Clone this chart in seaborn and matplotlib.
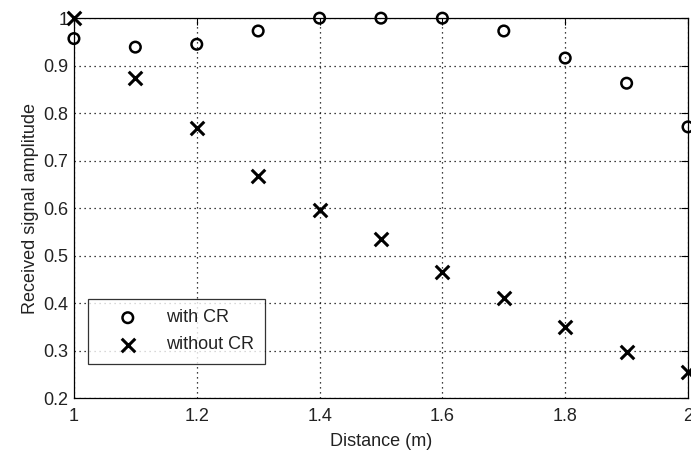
import numpy as np
import pandas as pd
import seaborn as sns
import matplotlib
matplotlib.use('Agg')
import matplotlib.pyplot as plt
from matplotlib.ticker import FuncFormatter

# values
distance = [1.0, 1.1, 1.2, 1.3, 1.4, 1.5, 1.6, 1.7, 1.8, 1.9, 2.0]
with_cr = [0.957, 0.939, 0.945, 0.973, 1.0, 1.0, 1.0, 0.973, 0.916, 0.863, 0.771]
without_cr = [1.0, 0.874, 0.768, 0.667, 0.596, 0.534, 0.466, 0.411, 0.350, 0.296, 0.254]
series_names = ['with CR', 'without CR']

df = pd.DataFrame({'Distance': distance * 2,
                   'Amplitude': with_cr + without_cr,
                   'Series': [series_names[0]] * len(distance) + [series_names[1]] * len(distance)})

sns.set_style('white')
plt.rcParams['font.family'] = ['Liberation Sans', 'DejaVu Sans']
FS = 13

fig = plt.figure(figsize=(6.91, 4.54), dpi=100)
ax = fig.add_axes([0.107, 0.1233, 0.8887, 0.8367])

d1 = df[df['Series'] == series_names[0]]
d2 = df[df['Series'] == series_names[1]]
sns.scatterplot(data=d1, x='Distance', y='Amplitude', ax=ax, marker='o', s=58,
                facecolor='none', edgecolor='k', linewidth=1.8, label=series_names[0],
                clip_on=False, zorder=3)
sns.scatterplot(data=d2, x='Distance', y='Amplitude', ax=ax, marker='x', s=95,
                color='k', linewidth=2.2, label=series_names[1],
                clip_on=False, zorder=3)

ax.set_xlim(1, 2)
ax.set_ylim(0.2, 1)
ax.set_xticks(np.arange(1, 2.01, 0.2))
ax.set_yticks(np.arange(0.2, 1.01, 0.1))
fmt = FuncFormatter(lambda v, p: ('%.1f' % v).rstrip('0').rstrip('.'))
ax.xaxis.set_major_formatter(fmt)
ax.yaxis.set_major_formatter(fmt)
ax.tick_params(direction='in', length=5, width=0.8, top=True, right=True,
               color='k', labelcolor='#222222', labelsize=FS, pad=4)
ax.tick_params(axis='x', pad=7)
ax.grid(True, linestyle=(0, (1, 3)), color='k', linewidth=0.9)
for s in ax.spines.values():
    s.set_visible(True)
    s.set_color('k')
    s.set_linewidth(0.9)

ax.set_xlabel('Distance (m)', fontsize=FS, color='#222222', labelpad=6)
ax.set_ylabel('Received signal amplitude', fontsize=FS, color='#222222', labelpad=3)

leg = ax.legend(loc='lower left', bbox_to_anchor=(0.023, 0.089), borderaxespad=0,
                fancybox=False, frameon=True, edgecolor='k', fontsize=FS,
                handlelength=3.2, handletextpad=0.5, borderpad=0.6, labelspacing=0.55)
leg.get_frame().set_linewidth(0.9)
leg.set_zorder(5)
for t in leg.get_texts():
    t.set_color('#222222')

fig.savefig('out.png', dpi=100, facecolor='white')
